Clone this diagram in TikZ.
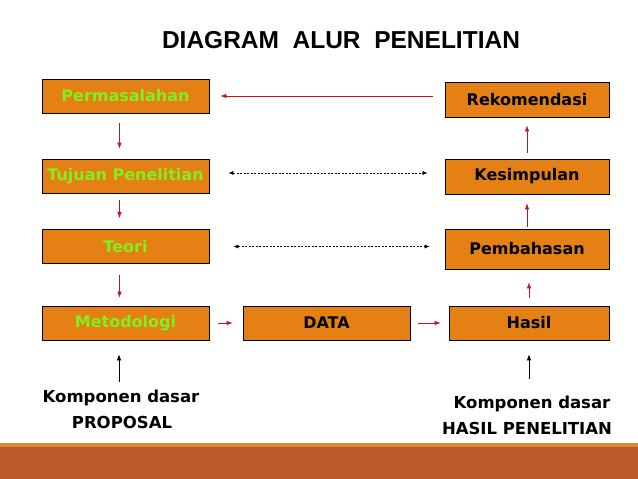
\documentclass[tikz,border=0pt]{standalone}
\usepackage{fontspec}
\setmainfont{DejaVu Sans}
\newfontfamily\titlefont{Liberation Sans}
\usetikzlibrary{arrows.meta}

\definecolor{boxorange}{RGB}{228,128,20}
\definecolor{textgreen}{RGB}{128,240,30}
\definecolor{arrowred}{RGB}{200,20,30}
\definecolor{bandbrown}{RGB}{188,90,46}
\definecolor{bandorange}{RGB}{226,136,44}

\tikzset{
  stage/.style={draw=black, fill=boxorange, line width=0.7pt, minimum height=34pt,
    inner sep=0pt, font=\bfseries\fontsize{16}{19}\selectfont},
  plan/.style={stage, text=textgreen, minimum width=167pt},
  result/.style={stage, text=black, minimum width=164pt},
  flow/.style={draw=arrowred, line width=0.7pt, -{Latex[length=6pt,width=4.5pt]}},
  link/.style={draw=black, dashed, dash pattern=on 2pt off 1.5pt, line width=0.6pt,
    {Latex[length=5pt,width=4pt]}-{Latex[length=5pt,width=4pt]}},
  base/.style={draw=black, line width=0.7pt, -{Latex[length=6pt,width=4.5pt]}},
  note/.style={font=\bfseries\fontsize{16.5}{19}\selectfont, inner sep=1pt}
}

\begin{document}
\begin{tikzpicture}[x=1pt, y=-1pt]
  \useasboundingbox (0,0) rectangle (638,479);

  % Bottom band
  \fill[bandorange] (0,443) rectangle (638,447);
  \fill[bandbrown] (0,447) rectangle (638,479);

  % Title
  \node[font=\titlefont\bfseries\fontsize{24.5}{28}\selectfont] (title) at (341,40) {DIAGRAM\ \ ALUR\ \ PENELITIAN};

  % Define node positions
  \node[plan] (masalah) at (125.5,96) {Permasalahan};
  \node[plan] (tujuan) at (125.5,176) {Tujuan Penelitian};
  \node[plan] (teori) at (125.5,246.5) {Teori};
  \node[plan] (metode) at (125.5,323) {Metodologi};
  \node[result, minimum width=167pt] (data) at (326.5,323) {DATA};
  \node[result, minimum width=160pt] (hasil) at (529,323) {Hasil};
  \node[result, minimum height=40pt] (bahas) at (527,249) {Pembahasan};
  \node[result, minimum height=35pt] (simpul) at (527,176.5) {Kesimpulan};
  \node[result, minimum height=35pt] (rekom) at (527,99.5) {Rekomendasi};

  \node[note] (dasar1) at (121,398) {Komponen dasar};
  \node[note] (prop) at (122,422) {PROPOSAL};
  \node[note] (dasar2) at (532,404) {Komponen dasar};
  \node[note] (hasilp) at (527,428) {HASIL PENELITIAN};

  % Draw edges
  \draw[flow, shorten <=12pt, shorten >=11pt] (rekom.west |- masalah) -- (masalah.east);

  \draw[flow, shorten <=10pt, shorten >=10pt] ([xshift=-6pt]masalah.south) -- ([xshift=-6pt]tujuan.north);
  \draw[flow, shorten <=7pt, shorten >=11pt] ([xshift=-6pt]tujuan.south) -- ([xshift=-6pt]teori.north);
  \draw[flow, shorten <=11pt, shorten >=8pt] ([xshift=-6pt]teori.south) -- ([xshift=-6pt]metode.north);

  \draw[flow, shorten <=9pt, shorten >=10pt] (metode.east) -- (data.west);
  \draw[flow, shorten <=8pt, shorten >=8pt] (data.east) -- (hasil.west);

  \draw[flow, shorten <=8pt, shorten >=13pt] (hasil.north) -- (hasil.north |- bahas.south);
  \draw[flow, shorten <=2pt, shorten >=9pt] (bahas.north) -- (simpul.south);
  \draw[flow, shorten <=6pt, shorten >=8pt] (simpul.north) -- (rekom.south);

  \draw[link, shorten <=19pt, shorten >=17pt] ([yshift=3pt]tujuan.east) -- ([yshift=3pt]tujuan.east -| simpul.west);
  \draw[link, shorten <=24pt, shorten >=15pt] (teori.east) -- (teori.east -| bahas.west);

  \draw[base, shorten <=7pt, shorten >=14pt] ([xshift=-2pt]dasar1.north) -- ([xshift=-2pt]dasar1.north |- metode.south);
  \draw[base, shorten <=16pt, shorten >=14pt] ([xshift=-3pt]dasar2.north) -- ([xshift=-3pt]dasar2.north |- hasil.south);
\end{tikzpicture}
\end{document}
